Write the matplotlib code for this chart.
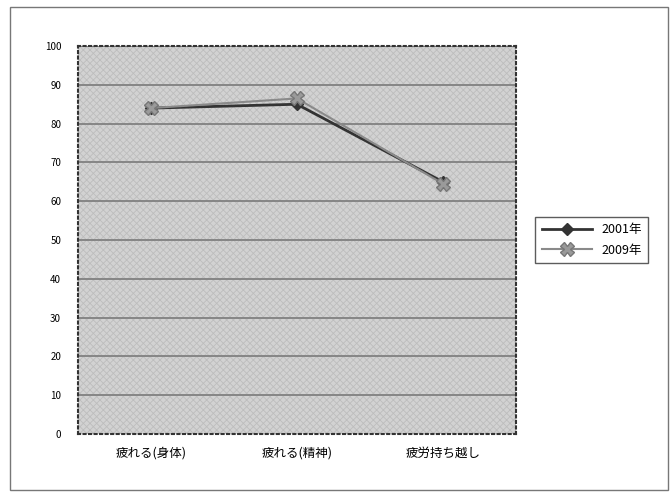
import matplotlib.pyplot as plt
from matplotlib.patches import Rectangle

plt.rcParams['font.family'] = ['Noto Sans CJK JP', 'DejaVu Sans']
plt.rcParams['hatch.linewidth'] = 0.6

categories = ["疲れる(身体)", "疲れる(精神)", "疲労持ち越し"]
y2001 = [84, 85, 65]
y2009 = [84, 86.5, 64.5]
series_labels = ["2001年", "2009年"]
yticks = list(range(0, 101, 10))

fig = plt.figure(figsize=(6.71, 4.95), dpi=100)
ax = fig.add_axes([0.116, 0.123, 0.653, 0.784])

ax.set_facecolor('#d2d2d2')
ax.add_patch(Rectangle((0, 0), 1, 1, transform=ax.transAxes, facecolor='none',
                       edgecolor='#bdbdbd', hatch='xxxxx', linewidth=0, zorder=0))
for y in yticks[1:]:
    ax.axhline(y, color='#7a7a7a', linewidth=1.2, zorder=1)

x = range(len(categories))
ax.plot(x, y2001, color='#333333', marker='D', markersize=6, linewidth=2,
        label=series_labels[0], zorder=3)
ax.plot(x, y2009, color='#8a8a8a', marker='X', markersize=10, linewidth=1.5,
        markerfacecolor='#9a9a9a', markeredgecolor='#777777',
        label=series_labels[1], zorder=4)

ax.set_xlim(-0.5, 2.5)
ax.set_ylim(0, 100)
ax.set_yticks(yticks)
ax.set_xticks(list(x))
ax.set_xticklabels(categories, fontsize=9)
ax.tick_params(axis='y', labelsize=7, length=0, pad=12)
ax.tick_params(axis='x', length=0, pad=9)
for s in ax.spines.values():
    s.set_linestyle(':')
    s.set_color('#333333')
    s.set_linewidth(1.5)

ax.legend(loc='center left', bbox_to_anchor=(1.03, 0.5), fontsize=9,
          frameon=True, fancybox=False, edgecolor='#333333', handlelength=4,
          borderpad=0.5, labelspacing=0.6)

fig.patches.append(Rectangle((0.015, 0.01), 0.98, 0.975, transform=fig.transFigure,
                             facecolor='none', edgecolor='#777777', linewidth=1))

fig.savefig('out.png', dpi=100, facecolor='white')
